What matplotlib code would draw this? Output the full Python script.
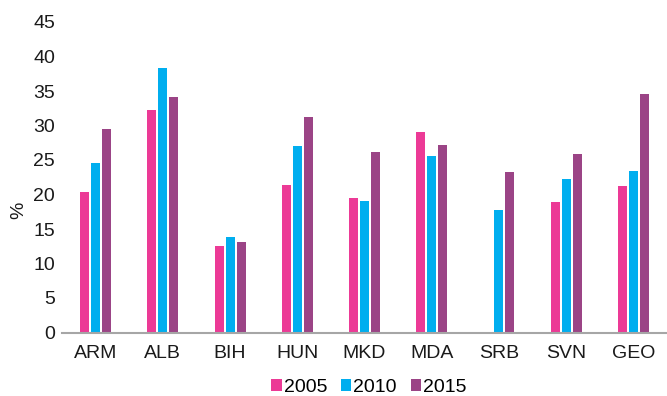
import matplotlib.pyplot as plt
import numpy as np

plt.rcParams['font.family'] = ['Liberation Sans', 'DejaVu Sans']

countries = ['ARM', 'ALB', 'BIH', 'HUN', 'MKD', 'MDA', 'SRB', 'SVN', 'GEO']
years = ['2005', '2010', '2015']
v2005 = [20.4, 32.2, 12.5, 21.4, 19.5, 29.1, np.nan, 18.9, 21.2]
v2010 = [24.6, 38.3, 13.8, 27.0, 19.1, 25.6, 17.8, 22.2, 23.4]
v2015 = [29.5, 34.1, 13.1, 31.2, 26.2, 27.2, 23.3, 25.9, 34.6]
colors = ['#EC3A96', '#00AEEF', '#9B4486']

fig = plt.figure(figsize=(6.67, 3.96), dpi=100)
ax = fig.add_axes([62 / 667, 63.5 / 396, 1 - 62 / 667, (332.5 - 22) / 396])

x = np.arange(len(countries))
w = 0.134
step = 0.164
for i, (vals, c, lab) in enumerate(zip([v2005, v2010, v2015], colors, years)):
    ax.bar(x + (i - 1) * step, vals, width=w, color=c, label=lab)

ax.set_xlim(-0.5, len(countries) - 0.5)
ax.set_ylim(0, 45)
ax.set_yticks(range(0, 50, 5))
ax.set_xticks(x)
ax.set_xticklabels(countries)
ax.tick_params(axis='both', length=0, labelsize=14, colors='#1a1a1a')
ax.tick_params(axis='x', pad=9)
ax.tick_params(axis='y', pad=5)
for s in ['top', 'right', 'left']:
    ax.spines[s].set_visible(False)
ax.spines['bottom'].set_color('#A6A6A6')
ax.spines['bottom'].set_linewidth(1.5)
ax.set_ylabel('%', fontsize=14, color='#1a1a1a')
ax.yaxis.set_label_coords(-0.057, 0.395)

fig.legend(loc='center', bbox_to_anchor=(0.553, 0.022), ncol=3, frameon=False,
           fontsize=14, handlelength=0.55, handleheight=0.55, handletextpad=0.1,
           columnspacing=0.7)

fig.savefig('out.png', dpi=100)
